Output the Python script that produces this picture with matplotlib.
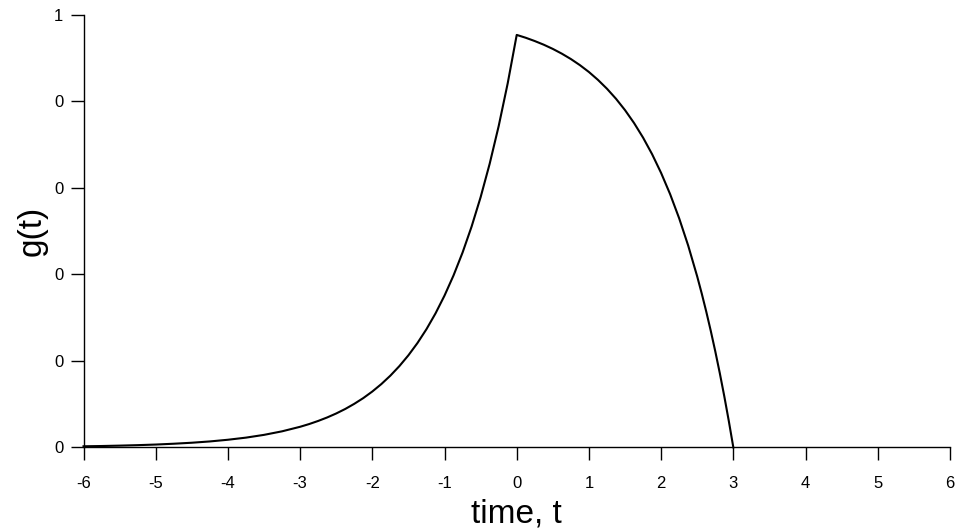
import numpy as np
import matplotlib
matplotlib.use("Agg")
import matplotlib.pyplot as plt

# -------------------
# Values
# -------------------
# rising part, t <= 0
t_rise = [-6.0, -5.75, -5.5, -5.25, -5.0, -4.75, -4.5, -4.25, -4.0, -3.75,
          -3.5, -3.25, -3.0, -2.875, -2.75, -2.625, -2.5, -2.375, -2.25,
          -2.125, -2.0, -1.875, -1.75, -1.625, -1.5, -1.375, -1.25, -1.125,
          -1.0, -0.875, -0.75, -0.625, -0.5, -0.375, -0.25, -0.125, 0.0]
g_rise = [0.0024, 0.0030, 0.0039, 0.0050, 0.0064, 0.0083, 0.0106, 0.0136,
          0.0175, 0.0224, 0.0288, 0.0370, 0.0475, 0.0538, 0.0610, 0.0691,
          0.0783, 0.0887, 0.1006, 0.1139, 0.1291, 0.1463, 0.1658, 0.1879,
          0.2129, 0.2412, 0.2733, 0.3097, 0.3510, 0.3977, 0.4506, 0.5106,
          0.5786, 0.6557, 0.7430, 0.8419, 0.954]

# falling part, 0 <= t <= 3
t_fall = [0.0, 0.125, 0.25, 0.375, 0.5, 0.625, 0.75, 0.875, 1.0, 1.125,
          1.25, 1.375, 1.5, 1.625, 1.75, 1.875, 2.0, 2.125, 2.25, 2.375,
          2.5, 2.5625, 2.625, 2.6875, 2.75, 2.8125, 2.875, 2.9375, 3.0]
g_fall = [0.954, 0.9474, 0.9398, 0.9313, 0.9216, 0.9106, 0.8982, 0.8841,
          0.8682, 0.8500, 0.8295, 0.8063, 0.7800, 0.7502, 0.7164, 0.6781,
          0.6346, 0.5855, 0.5297, 0.4666, 0.3951, 0.3558, 0.3140, 0.2695,
          0.2221, 0.1717, 0.1180, 0.0608, 0.0]

x_ticks = [-6, -5, -4, -3, -2, -1, 0, 1, 2, 3, 4, 5, 6]
y_ticks = [0.0, 0.2, 0.4, 0.6, 0.8, 1.0]
y_tick_labels = ["0", "0", "0", "0", "0", "1"]

# -------------------
# Plot
# -------------------
plt.rcParams["font.family"] = ["Liberation Sans", "DejaVu Sans"]

fig = plt.figure(figsize=(9.6, 5.31), dpi=100)
ax = fig.add_axes([0.087, 0.1576, 0.9025, 0.8141])

t = t_rise + t_fall[1:]
g = g_rise + g_fall[1:]
ax.plot(t, g, color="black", linewidth=1.5, clip_on=False)

ax.set_xlim(-6, 6)
ax.set_ylim(0, 1)
ax.set_xticks(x_ticks)
ax.set_xticklabels([str(v) for v in x_ticks])
ax.set_yticks(y_ticks)
ax.set_yticklabels(y_tick_labels)

for side in ["top", "right"]:
    ax.spines[side].set_visible(False)
for side in ["left", "bottom"]:
    ax.spines[side].set_linewidth(1.0)
    ax.spines[side].set_color("black")

ax.tick_params(axis="both", direction="out", length=9.5, width=1.0,
               colors="black", labelsize=12)
ax.tick_params(axis="x", pad=11)
ax.tick_params(axis="y", pad=5)

# axis titles, placed by baseline
ax.set_xlabel("time, t", fontsize=24)
ax.xaxis.set_label_coords(0.5, -0.175)
ax.xaxis.label.set_verticalalignment("baseline")

ax.set_ylabel("g(t)", fontsize=24)
ax.yaxis.set_label_coords(-0.049, 0.5)
ax.yaxis.label.set_verticalalignment("baseline")

fig.savefig("out.png", dpi=100)
